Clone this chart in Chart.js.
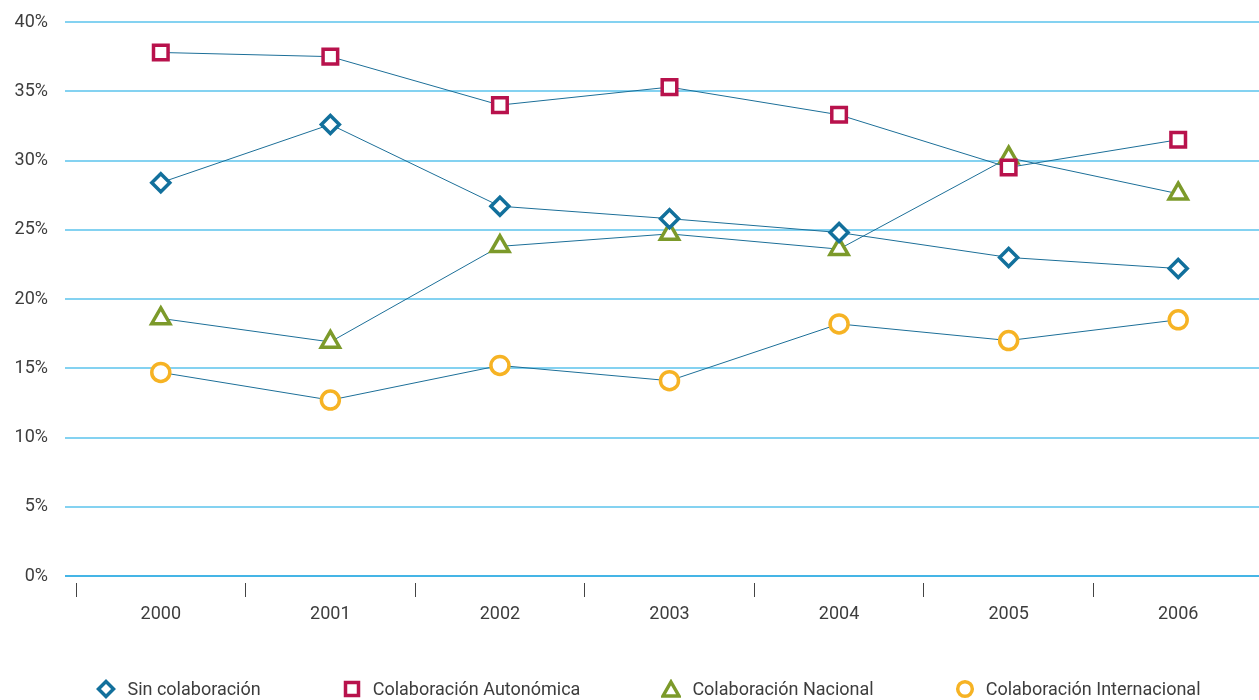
<!DOCTYPE html>
<html>
<head>
<meta charset="utf-8">
<script src="https://cdn.jsdelivr.net/npm/chart.js@4.4.1/dist/chart.umd.min.js"></script>
<style>
  html, body { margin: 0; padding: 0; background: #fff; overflow: hidden; }
  #wrap { position: relative; width: 1263px; height: 700px; }
  #legend {
    position: absolute; left: 0; top: 678px; width: 1297px;
    display: flex; justify-content: center; align-items: center; gap: 81px;
    font-family: Roboto, 'Open Sans', sans-serif; font-size: 18px; color: #3d3d3d;
  }
  #legend .item { display: flex; align-items: center; white-space: nowrap; }
  #legend svg { width: 20px; height: 20px; margin-right: 11px; flex: none; }
</style>
</head>
<body>
<div id="wrap">
  <canvas id="colabChart"></canvas>
  <div id="legend"></div>
</div>
<script>
// data
var years = ['2000', '2001', '2002', '2003', '2004', '2005', '2006'];
var sinColab = [28.4, 32.6, 26.7, 25.8, 24.8, 23.0, 22.2];
var colabAutonomica = [37.8, 37.5, 34.0, 35.3, 33.3, 29.5, 31.5];
var colabNacional = [18.6, 16.9, 23.8, 24.7, 23.6, 30.2, 27.6];
var colabInternacional = [14.7, 12.7, 15.2, 14.1, 18.2, 17.0, 18.5];
var yTicks = [0, 5, 10, 15, 20, 25, 30, 35, 40];

var lineColor = '#1c6f98';
var textColor = '#3d3d3d';
var fontFamily = "Roboto, 'Open Sans', sans-serif";

function makeSet(label, values, color, style, radius) {
    return {
        label: label,
        data: values,
        borderColor: lineColor,
        borderWidth: 1,
        tension: 0,
        pointStyle: style,
        pointRadius: radius,
        pointHoverRadius: radius,
        pointBorderColor: color,
        pointBackgroundColor: '#ffffff',
        pointBorderWidth: 3.5,
        fill: false
    };
}

// small svg keys for the html legend
function legendKey(style, color) {
    var shape = '';
    if (style === 'rectRot') {
        shape = '<polygon points="10,2.5 17.5,10 10,17.5 2.5,10" />';
    } else if (style === 'rect') {
        shape = '<rect x="3.5" y="3.5" width="13" height="13" />';
    } else if (style === 'triangle') {
        shape = '<polygon points="10,3 18,17 2,17" />';
    } else {
        shape = '<circle cx="10" cy="10" r="7.3" />';
    }
    return '<svg viewBox="0 0 20 20"><g fill="#fff" stroke="' + color +
        '" stroke-width="3.5">' + shape + '</g></svg>';
}

document.addEventListener('DOMContentLoaded', function () {
    var ctx = document.getElementById('colabChart').getContext('2d');

    var chart = new Chart(ctx, {
        type: 'line',
        data: {
            labels: years,
            datasets: [
                makeSet('Sin colaboración', sinColab, '#12709c', 'rectRot', 9),
                makeSet('Colaboración Autonómica', colabAutonomica, '#b8124c', 'rect', 10.3),
                makeSet('Colaboración Nacional', colabNacional, '#7c9a2a', 'triangle', 10.5),
                makeSet('Colaboración Internacional', colabInternacional, '#f6b324', 'circle', 9)
            ]
        },
        options: {
            responsive: true,
            maintainAspectRatio: false,
            animation: false,
            layout: {
                autoPadding: false,
                padding: { top: 22, left: 0, right: 0, bottom: 0 }
            },
            plugins: {
                legend: { display: false },
                tooltip: { enabled: false }
            },
            scales: {
                x: {
                    offset: true,
                    border: { display: false },
                    grid: {
                        offset: true,
                        drawOnChartArea: false,
                        drawTicks: true,
                        tickLength: 21,
                        tickColor: '#444444',
                        tickWidth: 1,
                        tickBorderDash: [0, 7, 14, 60]
                    },
                    ticks: {
                        color: textColor,
                        padding: 7,
                        font: { family: fontFamily, size: 18 }
                    },
                    afterFit: function (scale) {
                        scale.height = 124;
                    }
                },
                y: {
                    min: yTicks[0],
                    max: yTicks[yTicks.length - 1],
                    border: { display: false },
                    afterBuildTicks: function (scale) {
                        scale.ticks = yTicks.map(function (v) { return { value: v }; });
                    },
                    grid: {
                        color: function (c) {
                            return c.tick && c.tick.value === 0 ? '#45b5e6' : '#84d2f1';
                        },
                        lineWidth: 2,
                        drawTicks: true,
                        tickLength: 11
                    },
                    ticks: {
                        color: textColor,
                        padding: 17,
                        font: { family: fontFamily, size: 18 },
                        callback: function (value) {
                            return value + '%';
                        }
                    },
                    afterFit: function (scale) {
                        scale.width = 76;
                        scale.paddingTop = 0;
                        scale.paddingBottom = 0;
                    }
                }
            }
        }
    });

    // html legend built from the chart's datasets
    var legendEl = document.getElementById('legend');
    chart.data.datasets.forEach(function (ds) {
        var item = document.createElement('div');
        item.className = 'item';
        item.innerHTML = legendKey(ds.pointStyle, ds.pointBorderColor) + '<span></span>';
        item.querySelector('span').textContent = ds.label;
        legendEl.appendChild(item);
    });
});
</script>
</body>
</html>
